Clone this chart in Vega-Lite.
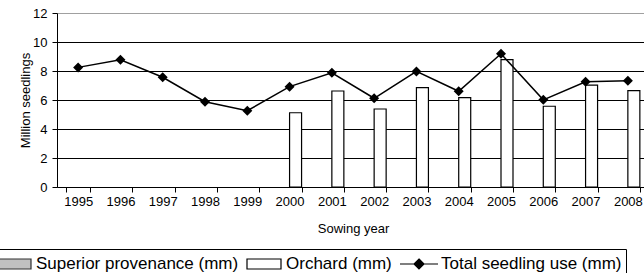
{
  "$schema": "https://vega.github.io/schema/vega-lite/v6.json",
  "width": 592,
  "height": 174,
  "autosize": {"type": "none"},
  "padding": {"left": 57, "top": 13, "right": 0, "bottom": 86},
  "background": "white",
  "config": {
    "view": {"stroke": null},
    "font": "Liberation Sans",
    "axis": {"labelFont": "Liberation Sans", "titleFont": "Liberation Sans", "labelColor": "black", "titleColor": "black"},
    "legend": {
      "title": null,
      "orient": "none",
      "legendX": -58,
      "legendY": 236,
      "direction": "horizontal",
      "strokeColor": "black",
      "fillColor": "white",
      "padding": 4,
      "symbolSize": 400,
      "symbolStrokeWidth": 1.2,
      "symbolOpacity": 1,
      "labelOffset": 11,
      "columnPadding": 5,
      "labelFontSize": 17,
      "labelFont": "Liberation Sans",
      "labelColor": "black",
      "labelLimit": 400
    }
  },
  "data": {
    "values": [
      {"year": "1995", "series": "Total seedling use (mm)", "value": 8.25},
      {"year": "1996", "series": "Total seedling use (mm)", "value": 8.77},
      {"year": "1997", "series": "Total seedling use (mm)", "value": 7.57},
      {"year": "1998", "series": "Total seedling use (mm)", "value": 5.88},
      {"year": "1999", "series": "Total seedling use (mm)", "value": 5.26},
      {"year": "2000", "series": "Total seedling use (mm)", "value": 6.92},
      {"year": "2001", "series": "Total seedling use (mm)", "value": 7.88},
      {"year": "2002", "series": "Total seedling use (mm)", "value": 6.12},
      {"year": "2003", "series": "Total seedling use (mm)", "value": 7.97},
      {"year": "2004", "series": "Total seedling use (mm)", "value": 6.6},
      {"year": "2005", "series": "Total seedling use (mm)", "value": 9.19},
      {"year": "2006", "series": "Total seedling use (mm)", "value": 6.01},
      {"year": "2007", "series": "Total seedling use (mm)", "value": 7.26},
      {"year": "2008", "series": "Total seedling use (mm)", "value": 7.32},
      {"year": "2000", "series": "Orchard (mm)", "value": 5.12},
      {"year": "2001", "series": "Orchard (mm)", "value": 6.62},
      {"year": "2002", "series": "Orchard (mm)", "value": 5.38},
      {"year": "2003", "series": "Orchard (mm)", "value": 6.85},
      {"year": "2004", "series": "Orchard (mm)", "value": 6.16},
      {"year": "2005", "series": "Orchard (mm)", "value": 8.78},
      {"year": "2006", "series": "Orchard (mm)", "value": 5.57},
      {"year": "2007", "series": "Orchard (mm)", "value": 7.02},
      {"year": "2008", "series": "Orchard (mm)", "value": 6.64}
    ]
  },
  "encoding": {
    "x": {
      "field": "year",
      "type": "ordinal",
      "scale": {"paddingInner": 0.4324, "paddingOuter": 0.2162},
      "axis": {
        "title": "Sowing year",
        "titleFontSize": 13,
        "titleFontWeight": "normal",
        "titlePadding": 14,
        "labelFontSize": 13,
        "labelAngle": 0,
        "labelPadding": 3,
        "tickBand": "extent",
        "tickSize": 5,
        "tickColor": "black",
        "domainColor": "black",
        "grid": false
      }
    },
    "y": {
      "field": "value",
      "type": "quantitative",
      "scale": {"domain": [0, 12], "nice": false},
      "axis": {
        "title": "Million seedlings",
        "titleFontSize": 13,
        "titleFontWeight": "normal",
        "titleX": -32,
        "titleY": 87,
        "titleBaseline": "middle",
        "titleAlign": "center",
        "titleAngle": -90,
        "values": [0, 2, 4, 6, 8, 10, 12],
        "labelFontSize": 13,
        "labelPadding": 5,
        "tickSize": 5,
        "tickColor": "black",
        "domainColor": "black",
        "grid": true,
        "gridColor": {"condition": {"test": "datum.value === 12", "value": "#a0a0a0"}, "value": "black"},
        "gridWidth": 1
      }
    }
  },
  "layer": [
    {
      "transform": [{"filter": "datum.series === 'Orchard (mm)'"}],
      "mark": {"type": "bar", "fill": "white", "stroke": "black", "strokeWidth": 1.2},
      "encoding": {
        "xOffset": {
          "field": "series",
          "scale": {"domain": ["Superior provenance (mm)", "Orchard (mm)"], "paddingInner": 0, "paddingOuter": 0}
        }
      }
    },
    {
      "transform": [{"filter": "datum.series === 'Total seedling use (mm)'"}],
      "mark": {"type": "line", "color": "black", "strokeWidth": 1.5},
      "encoding": {}
    },
    {
      "transform": [{"filter": "datum.series === 'Total seedling use (mm)'"}],
      "mark": {"type": "point", "shape": "diamond", "filled": true, "size": 100, "color": "black", "opacity": 1},
      "encoding": {}
    },
    {
      "transform": [{"filter": "datum.series === 'none'"}],
      "mark": {"type": "point", "filled": true, "opacity": 1, "strokeWidth": 1.2},
      "encoding": {
        "fill": {
          "field": "series",
          "type": "nominal",
          "scale": {
            "domain": ["Superior provenance (mm)", "Orchard (mm)", "Total seedling use (mm)"],
            "range": ["#c0c0c0", "#ffffff", "#000000"]
          },
          "legend": {"title": null}
        },
        "stroke": {
          "field": "series",
          "type": "nominal",
          "scale": {
            "domain": ["Superior provenance (mm)", "Orchard (mm)", "Total seedling use (mm)"],
            "range": ["#303030", "#000000", "#000000"]
          },
          "legend": {"title": null}
        },
        "shape": {
          "field": "series",
          "type": "nominal",
          "scale": {
            "domain": ["Superior provenance (mm)", "Orchard (mm)", "Total seedling use (mm)"],
            "range": ["M-1.7,-0.5H1.7V0.5H-1.7Z", "M-1.7,-0.5H1.7V0.5H-1.7Z", "M-1.9,0H1.9M0,-0.5L0.5,0L0,0.5L-0.5,0Z"]
          },
          "legend": {"title": null}
        }
      }
    }
  ]
}
